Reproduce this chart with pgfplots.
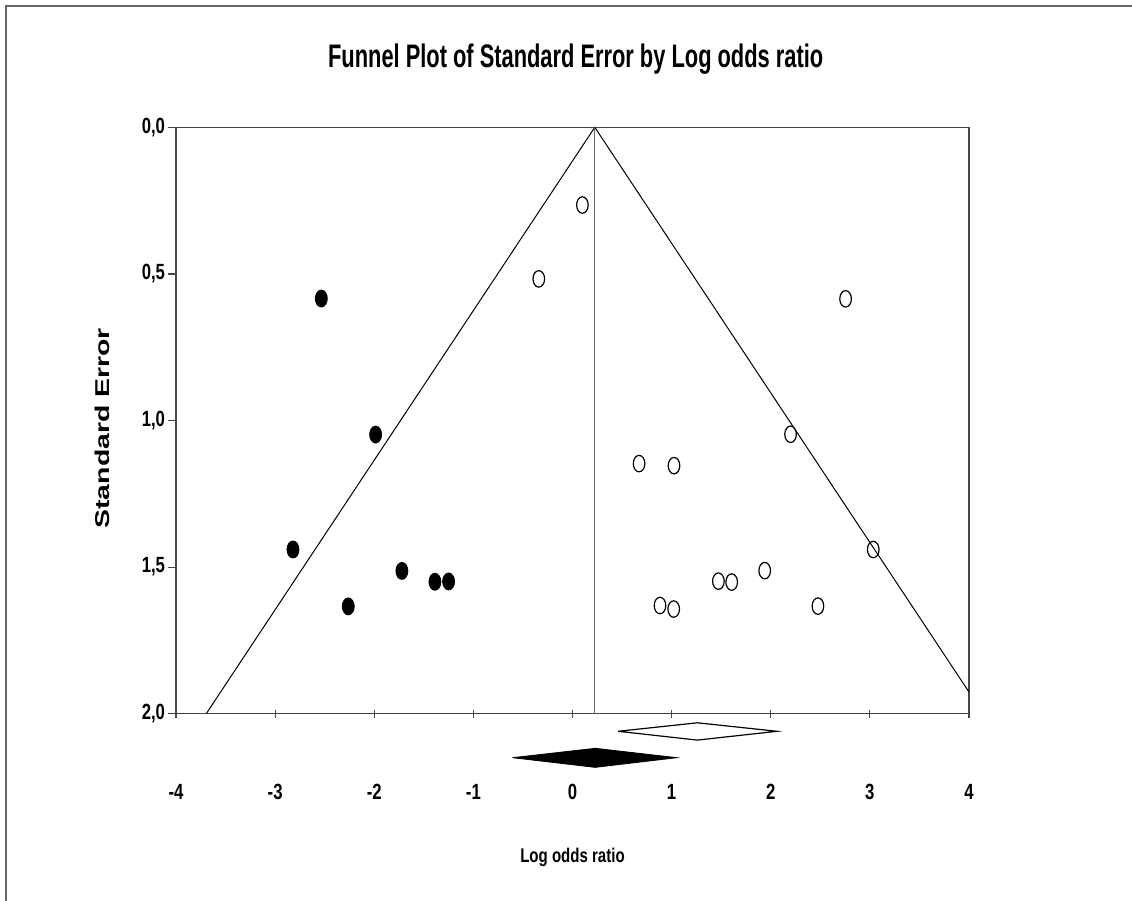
\documentclass[border=0pt]{standalone}
\usepackage{fontspec}
\setmainfont{Liberation Sans}
\newfontfamily\condfont[FakeStretch=0.76]{Liberation Sans}
\newfontfamily\titlefont[FakeStretch=0.67]{Liberation Sans}
\newfontfamily\widefont[FakeStretch=1.42]{Liberation Sans}
\usepackage{pgfplots}
\pgfplotsset{compat=1.18}
\definecolor{framegray}{RGB}{100,100,100}
\definecolor{axgray}{RGB}{70,70,70}
\begin{document}
\begin{tikzpicture}
\useasboundingbox (0,0) rectangle (566pt,450.5pt);
\draw[line width=1pt, framegray] (3pt,0) -- (3pt,447.5pt) -- (566pt,447.5pt);
\begin{axis}[
  at={(88pt,93.65pt)}, anchor=south west,
  scale only axis, width=396.5pt, height=293.2pt,
  xmin=-4, xmax=4, ymin=0, ymax=2, y dir=reverse,
  clip=false,
  axis line style={axgray, line width=0.7pt},
  xtick={-4,-3,-2,-1,0,1,2,3,4},
  xticklabels={-4,-3,-2,-1,0,1,2,3,4},
  ytick={0,0.5,1,1.5,2},
  yticklabels={{0,0},{0,5},{1,0},{1,5},{2,0}},
  xtick pos=lower, ytick pos=left,
  major tick length=3.8pt,
  x tick style={axgray, line width=0.6pt},
  y tick style={axgray, line width=0.6pt},
  xtick align=center, ytick align=outside,
  ticklabel style={font=\condfont\bfseries\fontsize{11}{12}\selectfont, inner sep=0pt},
  xticklabel shift=33pt,
  yticklabel shift=1.5pt,
  title={Funnel Plot of Standard Error by Log odds ratio},
  title style={font=\titlefont\bfseries\fontsize{16.3}{19}\selectfont, at={(axis description cs:0.504,1.0807)}, anchor=base, inner sep=0pt},
  xlabel={Log odds ratio},
  xlabel style={font=\condfont\bfseries\fontsize{9.9}{12}\selectfont, at={(axis description cs:0.5,-0.2546)}, anchor=base, inner sep=0pt},
  ylabel={Standard Error},
  ylabel style={font=\widefont\bfseries\fontsize{10}{12}\selectfont, at={(axis description cs:-0.0841,0.4867)}, anchor=base, rotate=0, inner sep=0pt},
]
% funnel lines
\addplot[black, line width=0.5pt] coordinates {(-3.695,2) (0.225,0) (4,1.926)};
% vertical line at combined estimate
\addplot[gray!80!black, line width=0.7pt] coordinates {(0.225,0) (0.225,2)};
% observed studies (open)
\addplot[only marks, mark=o, mark size=2.9pt, mark options={black, line width=0.6pt, yscale=1.42}] coordinates {
(0.100,0.265) (-0.340,0.517) (2.755,0.585) (2.200,1.047) (0.672,1.147)
(1.024,1.154) (3.034,1.440) (1.939,1.512) (1.472,1.548) (1.606,1.551)
(0.883,1.631) (1.021,1.643) (2.476,1.633)};
% imputed studies (filled)
\addplot[only marks, mark=*, mark size=3pt, mark options={black, fill=black, yscale=1.42}] coordinates {
(-2.534,0.584) (-1.986,1.048) (-2.820,1.440) (-2.262,1.634)
(-1.721,1.513) (-1.388,1.550) (-1.250,1.549)};
% observed summary diamond (open)
\addplot[black, line width=0.6pt, fill=white] coordinates {
(0.46,2.060) (1.26,2.031) (2.063,2.060) (1.26,2.090) (0.46,2.060)};
% adjusted summary diamond (filled)
\addplot[black, line width=0.4pt, fill=black] coordinates {
(-0.605,2.150) (0.228,2.118) (1.054,2.150) (0.228,2.183) (-0.605,2.150)};
\end{axis}
\end{tikzpicture}
\end{document}
